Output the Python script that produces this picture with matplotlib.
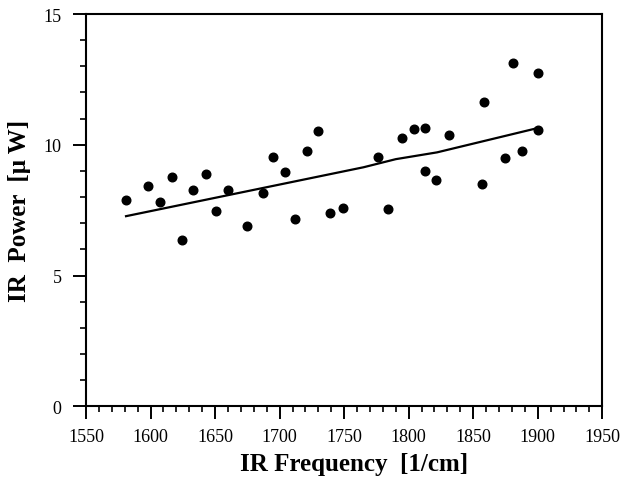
import matplotlib
matplotlib.use('Agg')
import matplotlib.pyplot as plt
from matplotlib.ticker import MultipleLocator

freq = [1581, 1598, 1607, 1617, 1624, 1633, 1643, 1651, 1660, 1675, 1687,
        1695, 1704, 1712, 1721, 1730, 1739, 1749, 1776, 1784, 1795, 1804,
        1813, 1813, 1821, 1831, 1858, 1857, 1875, 1881, 1888, 1900, 1900]
power = [7.87, 8.44, 7.80, 8.78, 6.35, 8.26, 8.88, 7.46, 8.26, 6.89, 8.17,
         9.55, 8.96, 7.17, 9.75, 10.52, 7.41, 7.58, 9.52, 7.53, 10.25, 10.62,
         10.65, 9.01, 8.64, 10.37, 11.65, 8.49, 9.50, 13.14, 9.75, 12.73, 10.57]

# fitted trend curve
fit_x = [1581, 1765, 1790, 1822, 1900]
fit_y = [7.27, 9.14, 9.45, 9.71, 10.64]

plt.rcParams['font.family'] = ['Liberation Serif', 'DejaVu Serif']

fig = plt.figure(figsize=(6.22, 4.81), dpi=100)
ax = fig.add_axes([0.1383, 0.1532, 0.830, 0.8156])

ax.plot(freq, power, 'o', color='black', markersize=6.2)
ax.plot(fit_x, fit_y, '-', color='black', lw=1.6)

ax.set_xlim(1550, 1950)
ax.set_ylim(0, 15)
ax.xaxis.set_major_locator(MultipleLocator(50))
ax.xaxis.set_minor_locator(MultipleLocator(10))
ax.yaxis.set_major_locator(MultipleLocator(5))
ax.yaxis.set_minor_locator(MultipleLocator(1))
ax.tick_params(which='major', direction='out', length=9.5, width=1.4, labelsize=13)
ax.tick_params(which='minor', direction='out', length=4.5, width=1.2)
ax.tick_params(axis='x', pad=6)
ax.tick_params(axis='y', pad=8)
for s in ax.spines.values():
    s.set_linewidth(1.5)

ax.set_xlabel('IR Frequency  [1/cm]', fontsize=18, fontweight='bold', labelpad=5, x=0.52)
ax.set_ylabel('IR  Power  [\u03bc W]', fontsize=18, fontweight='bold', labelpad=9)

fig.savefig('out.png', dpi=100)
